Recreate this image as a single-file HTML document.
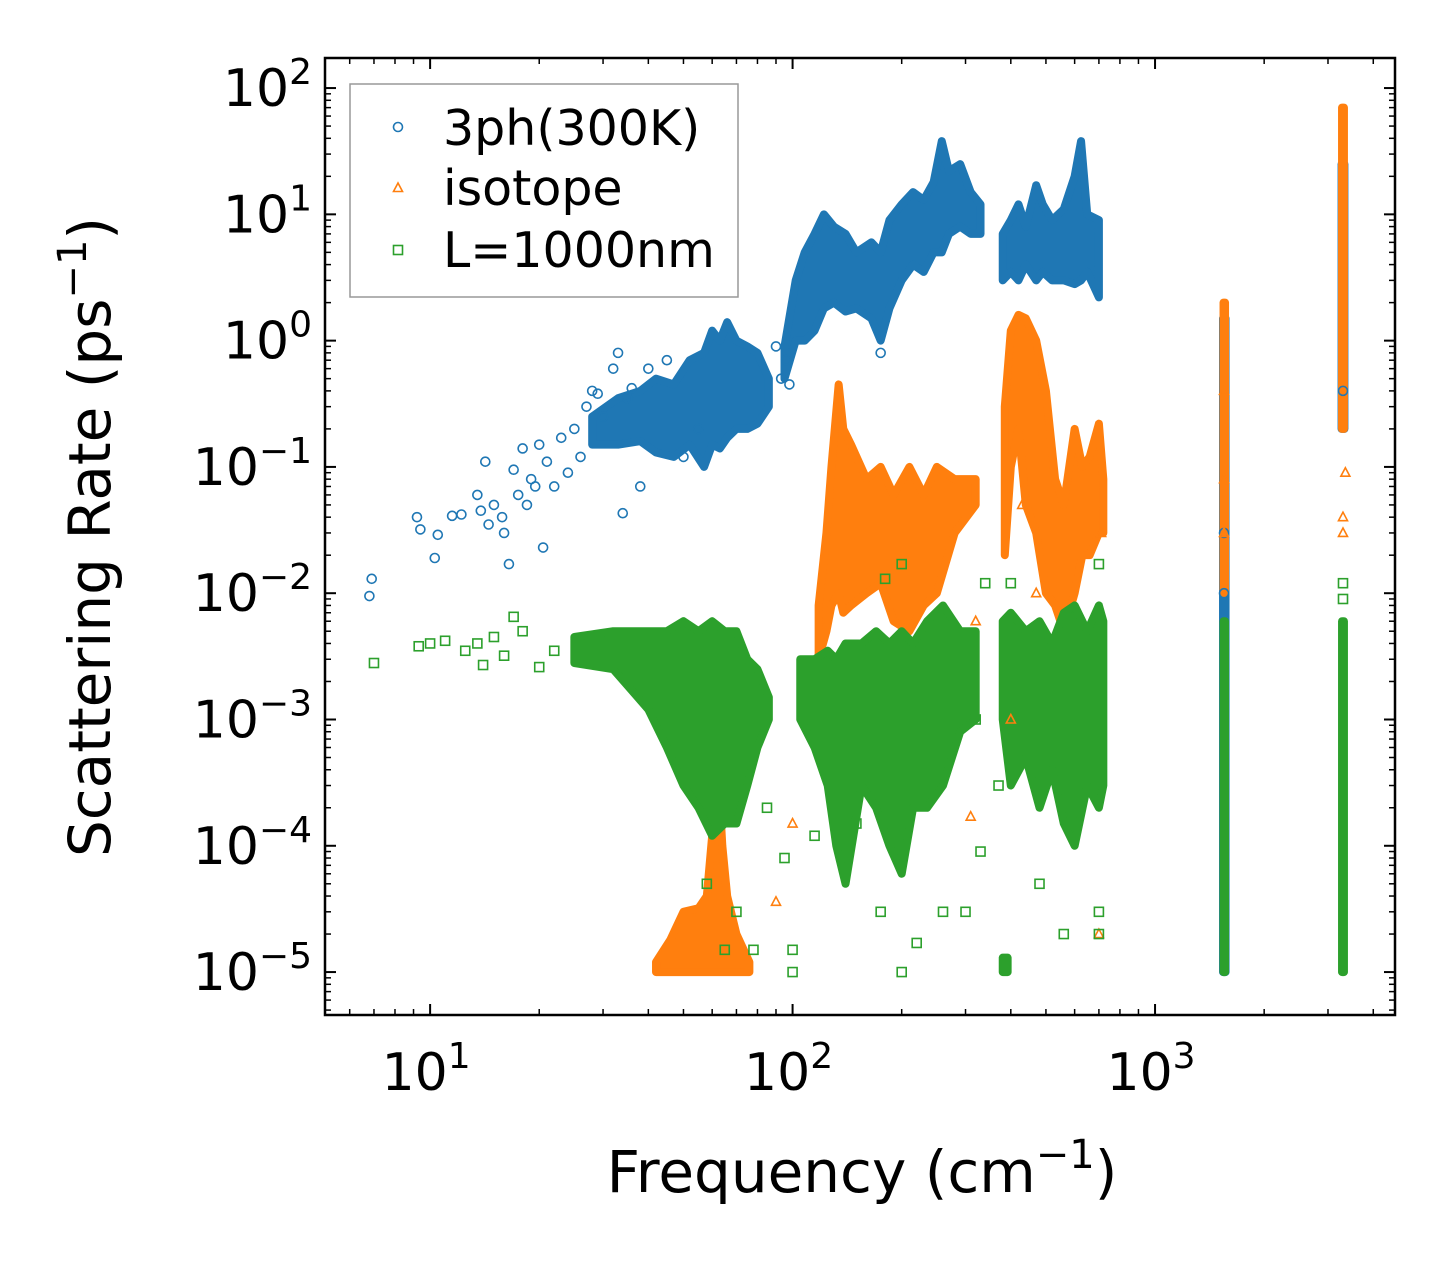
<!DOCTYPE html>
<html><head><meta charset="utf-8"><style>
body{margin:0;background:#fff}
svg text{font-family:"DejaVu Sans","Liberation Sans",sans-serif;fill:#000}
</style></head><body>
<svg id="chart" width="1455" height="1265" viewBox="0 0 1455 1265" xmlns="http://www.w3.org/2000/svg" style="position:absolute;left:0;top:0">
<rect width="1455" height="1265" fill="#fff"/>
<g id="bands"></g><g id="marks"></g><g id="axes"></g>
</svg>
<script>
// ---- data ----
const xTicks=[10,100,1000];
const yTicks=[1e2,1e1,1e0,1e-1,1e-2,1e-3,1e-4,1e-5];
const yTickExp=["2","1","0","−1","−2","−3","−4","−5"];
const xTickExp=["1","2","3"];
// dense clouds: [freq, low, high]
const blueBands=[
 [[28,0.15,0.25],[33,0.15,0.35],[38,0.16,0.4],[42,0.13,0.5],[47,0.12,0.45],[52,0.15,0.7],[57,0.1,0.8],[60,0.15,1.2],[63,0.14,1.0],[66,0.17,1.4],[70,0.2,1.0],[75,0.2,0.9],[80,0.22,0.8],[86,0.3,0.5]],
 [[95,0.5,0.9],[102,1.0,3.0],[108,1.0,5],[115,1.2,7],[122,1.8,10],[130,2,8],[140,1.7,7],[150,1.8,5],[165,1.5,6],[175,1.0,5],[185,1.8,9],[200,3,12],[215,4,15],[230,3.5,13],[245,5,18],[258,5,38],[270,7,22],[290,8,25],[310,7,15],[330,7,12]],
 [[380,3,7],[400,3.5,9],[420,3,12],[440,4,8],[470,3,17],[490,3.5,12],[520,3,9],[560,3,11],[600,2.8,20],[625,3,38],[650,3.5,10],[700,2.2,9]],
 [[1540,1e-5,1.5],[1565,1e-5,1.5]],
 [[3270,0.2,25],[3330,0.2,25]]
];
const orangeBands=[
 [[42,1e-5,1.2e-5],[46,1e-5,1.8e-5],[50,1e-5,3e-5],[55,1e-5,3.2e-5],[58,1e-5,4e-5],[60,1e-5,1.2e-4],[62,1e-5,5e-4],[64,1e-5,1e-4],[66,1e-5,4e-5],[70,1e-5,2e-5],[76,1e-5,1.2e-5]],
 [[118,3e-3,0.008],[124,5e-3,0.03],[128,0.008,0.1],[134,0.01,0.45],[138,0.007,0.2],[145,0.008,0.15],[160,0.01,0.08],[175,0.012,0.1],[190,0.006,0.06],[210,0.005,0.1],[230,0.008,0.06],[250,0.01,0.1],[280,0.03,0.08],[320,0.05,0.08]],
 [[385,0.02,0.3],[400,0.1,1.2],[420,0.2,1.6],[440,0.05,1.5],[470,0.03,1.0],[500,0.01,0.4],[530,0.008,0.08],[560,0.005,0.05],[600,0.01,0.2],[630,0.02,0.1],[660,0.02,0.12],[700,0.03,0.22],[720,0.03,0.08]],
 [[1545,0.01,2],[1560,0.01,2]],
 [[3280,0.2,70],[3320,0.2,70]]
];
const greenBands=[
 [[25,2.8e-3,4.5e-3],[32,2.5e-3,5e-3],[40,1.2e-3,5e-3],[45,6e-4,5e-3],[50,3e-4,6e-3],[55,2e-4,5e-3],[60,1.2e-4,6e-3],[65,1.5e-4,5e-3],[70,1.5e-4,5e-3],[75,3e-4,3e-3],[80,6e-4,2.5e-3],[86,1e-3,1.5e-3]],
 [[105,1e-3,3e-3],[115,6e-4,3e-3],[125,3e-4,3.5e-3],[132,1e-4,3e-3],[140,5e-5,4e-3],[155,3e-4,4e-3],[170,2e-4,5e-3],[185,1e-4,4e-3],[200,6e-5,5e-3],[215,2e-4,4e-3],[235,2e-4,6e-3],[260,3e-4,8e-3],[290,8e-4,5e-3],[320,1e-3,5e-3]],
 [[380,1e-5,1.3e-5],[392,1e-5,1.3e-5]],
 [[380,1e-3,6e-3],[400,3e-4,7e-3],[440,5e-4,5e-3],[480,2e-4,6e-3],[520,4e-4,4e-3],[560,1.5e-4,7e-3],[600,1e-4,8e-3],[650,3e-4,5e-3],[700,2e-4,8e-3],[720,3e-4,6e-3]],
 [[1545,1e-5,6e-3],[1560,1e-5,6e-3]],
 [[3280,1e-5,6e-3],[3320,1e-5,6e-3]]
];
const blueFreq=[6.8,6.9,9.2,9.4,10.3,10.5,11.5,12.2,13.5,13.8,14.2,14.5,15,15.8,16,16.5,17,17.5,18,18.5,19,19.5,20,20.5,21,22,23,24,25,26,27,28,29,30,32,33,34,35,36,38,40,45,50,55,90,93,96,98,175,1550,1550,3300];
const blueRate=[0.0095,0.013,0.04,0.032,0.019,0.029,0.041,0.042,0.06,0.045,0.11,0.035,0.05,0.04,0.03,0.017,0.095,0.06,0.14,0.05,0.08,0.07,0.15,0.023,0.11,0.07,0.17,0.09,0.2,0.12,0.3,0.4,0.38,0.25,0.6,0.8,0.043,0.35,0.42,0.07,0.6,0.7,0.12,0.2,0.9,0.5,0.7,0.45,0.8,0.03,0.01,0.4];
const orangeFreq=[90,100,310,320,400,430,470,700,710,3300,3300,3350,1550,1550,1550];
const orangeRate=[3.6e-5,1.5e-4,1.7e-4,6e-3,1e-3,0.05,0.01,2e-5,0.03,0.03,0.04,0.09,0.08,0.03,0.4];
const greenFreq=[7,9.3,10,11,12.5,13.5,14,15,16,17,18,20,22,58,65,70,78,85,95,100,100,115,150,175,200,220,260,300,320,330,370,480,560,700,700,180,200,340,400,700,3300,3300];
const greenRate=[2.8e-3,3.8e-3,4e-3,4.2e-3,3.5e-3,4e-3,2.7e-3,4.5e-3,3.2e-3,6.5e-3,5e-3,2.6e-3,3.5e-3,5e-5,1.5e-5,3e-5,1.5e-5,2e-4,8e-5,1.5e-5,1e-5,1.2e-4,1.5e-4,3e-5,1e-5,1.7e-5,3e-5,3e-5,1e-3,9e-5,3e-4,5e-5,2e-5,2e-5,3e-5,0.013,0.017,0.012,0.012,0.017,0.012,0.009];
// ---- layout ----
const L=325,R=1395,T=58,B=1015;
const xLogMin=0.71,xLogMax=3.662,yLogMin=-5.34,yLogMax=2.238;
const X=v=>L+(Math.log10(v)-xLogMin)/(xLogMax-xLogMin)*(R-L);
const Y=v=>B-(Math.log10(v)-yLogMin)/(yLogMax-yLogMin)*(B-T);
const NS="http://www.w3.org/2000/svg";
function mk(tag,attrs,parent){const e=document.createElementNS(NS,tag);for(const k in attrs)e.setAttribute(k,attrs[k]);parent.appendChild(e);return e;}
const bandsG=document.getElementById('bands'),marksG=document.getElementById('marks'),axesG=document.getElementById('axes');
const C={blue:'#1f77b4',orange:'#ff7f0e',green:'#2ca02c'};
function drawBands(bands,color,name){
 bands.forEach((b,i)=>{
  const top=b.map(p=>X(p[0])+','+Y(p[2])),bot=b.slice().reverse().map(p=>X(p[0])+','+Y(p[1]));
  const el=mk('polygon',{points:top.concat(bot).join(' '),fill:color,stroke:color,'stroke-width':8,'stroke-linejoin':'round'},bandsG);
  
  
 });
}
function marker(kind,cx,cy,color,parent){
 let el;
 if(kind==='o')el=mk('circle',{cx:cx,cy:cy,r:4.5,fill:'none',stroke:color,'stroke-width':1.6},parent);
 else if(kind==='^')el=mk('polygon',{points:`${cx},${cy-5} ${cx-4.5},${cy+3.5} ${cx+4.5},${cy+3.5}`,fill:'none',stroke:color,'stroke-width':1.6},parent);
 else el=mk('rect',{x:cx-4.5,y:cy-4.5,width:9,height:9,fill:'none',stroke:color,'stroke-width':1.6},parent);
 return el;
}
function drawPts(fs,rs,kind,color,name){
 fs.forEach((f,i)=>{const el=marker(kind,X(f),Y(rs[i]),color,marksG);
  
  });
}
drawBands(blueBands,C.blue,'3ph');drawPts(blueFreq,blueRate,'o',C.blue,'3ph');
drawBands(orangeBands,C.orange,'isotope');drawPts(orangeFreq,orangeRate,'^',C.orange,'isotope');
drawBands(greenBands,C.green,'boundary');drawPts(greenFreq,greenRate,'s',C.green,'boundary');
// ---- axes ----
const frame=mk('rect',{x:L,y:T,width:R-L,height:B-T,fill:'none',stroke:'#000','stroke-width':2.5},axesG);


function tick(x1,y1,x2,y2,w){mk('line',{x1,y1,x2,y2,stroke:'#000','stroke-width':w},axesG);}
for(let d=0;d<=3;d++)for(let m=1;m<=9;m++){const v=m*Math.pow(10,d);const x=X(v);if(x<L||x>R)continue;
 const len=m===1?11:6,w=m===1?2:1.5;tick(x,B,x,B-len,w);tick(x,T,x,T+len,w);}
for(let d=-6;d<=2;d++)for(let m=1;m<=9;m++){const v=m*Math.pow(10,d);const y=Y(v);if(y<T||y>B)continue;
 const len=m===1?11:6,w=m===1?2:1.5;tick(L,y,L+len,y,w);tick(R,y,R-len,y,w);}
xTicks.forEach((v,i)=>{const t=mk('text',{x:X(v)-4,y:1090,'font-size':52,'text-anchor':'middle'},axesG);
 t.innerHTML=`10<tspan dy="-22" font-size="36">${xTickExp[i]}</tspan>`;
 
 });
yTicks.forEach((v,i)=>{const t=mk('text',{x:312,y:Y(v)+18,'font-size':52,'text-anchor':'end'},axesG);
 t.innerHTML=`10<tspan dy="-22" font-size="36">${yTickExp[i]}</tspan>`;
 
 });
</script>
<svg style="position:absolute;left:0;top:0" width="1455" height="1265">
<text x="862" y="1192" font-size="58" text-anchor="middle" font-family="DejaVu Sans, sans-serif">Frequency (cm<tspan dy="-24" font-size="40">−1</tspan><tspan dy="24">)</tspan></text>
<text transform="translate(110,537) rotate(-90)" font-size="58" text-anchor="middle" font-family="DejaVu Sans, sans-serif">Scattering Rate (ps<tspan dy="-24" font-size="40">−1</tspan><tspan dy="24">)</tspan></text>
<g>
<rect x="350" y="84" width="388" height="213" fill="#fff" fill-opacity="0.8" stroke="#999" stroke-width="1.5"/>
<circle cx="398" cy="127" r="4.5" fill="none" stroke="#1f77b4" stroke-width="1.6"/>
<text x="443" y="145" font-size="49" font-family="DejaVu Sans, sans-serif">3ph(300K)</text>
<polygon points="398,183 393.5,191.5 402.5,191.5" fill="none" stroke="#ff7f0e" stroke-width="1.6"/>
<text x="443" y="205" font-size="49" font-family="DejaVu Sans, sans-serif">isotope</text>
<rect x="393.5" y="245.5" width="9" height="9" fill="none" stroke="#2ca02c" stroke-width="1.6"/>
<text x="443" y="267" font-size="49" font-family="DejaVu Sans, sans-serif">L=1000nm</text>
</g>
</svg>
</body></html>
